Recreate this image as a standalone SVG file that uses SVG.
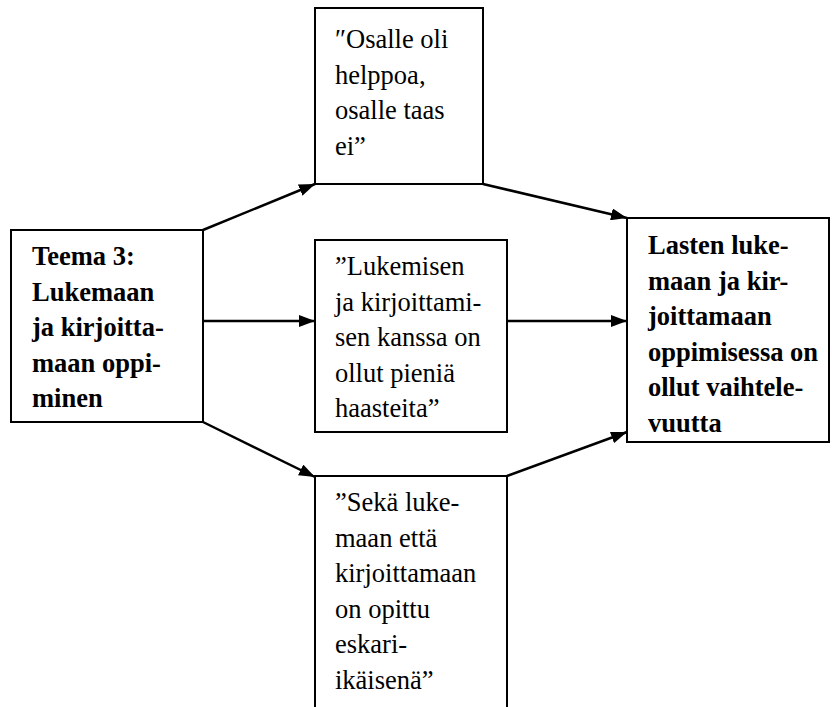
<svg xmlns="http://www.w3.org/2000/svg" width="832" height="707" viewBox="0 0 832 707">
<defs>
<marker id="arr" viewBox="0 0 16 12" refX="16" refY="6" markerWidth="16" markerHeight="12" markerUnits="userSpaceOnUse" orient="auto">
<path d="M0,0 L16,6 L0,12 z" fill="#000"/>
</marker>
<style>
.box{fill:#fff;stroke:#000;stroke-width:2}
.t{font-family:"Liberation Serif","Times New Roman",serif;font-size:26.5px;fill:#000}
.b{font-weight:bold}
.c{stroke:#000;stroke-width:2.5;fill:none;marker-end:url(#arr)}
</style>
</defs>
<rect width="832" height="707" fill="#fff"/>
<g id="connectors">
<line class="c" x1="203" y1="230" x2="315" y2="184"/>
<line class="c" x1="203" y1="321" x2="315" y2="321"/>
<line class="c" x1="203" y1="422" x2="315" y2="477"/>
<line class="c" x1="483" y1="184" x2="627" y2="218"/>
<line class="c" x1="507" y1="321" x2="627" y2="321"/>
<line class="c" x1="507" y1="476" x2="627" y2="432"/>
</g>
<g id="teema">
<rect class="box" x="11" y="230" width="192" height="192"/>
<text class="t b" x="32"><tspan x="32" y="265">Teema 3:</tspan><tspan x="32" y="300.5">Lukemaan</tspan><tspan x="32" y="336">ja kirjoitta-</tspan><tspan x="32" y="371.5">maan oppi-</tspan><tspan x="32" y="407">minen</tspan></text>
</g>
<g id="osalle">
<rect class="box" x="315" y="8" width="168" height="176"/>
<text class="t"><tspan x="335" y="48">″Osalle oli</tspan><tspan x="335" y="83.5">helppoa,</tspan><tspan x="335" y="119">osalle taas</tspan><tspan x="335" y="154.5">ei”</tspan></text>
</g>
<g id="lukemisen">
<rect class="box" x="315" y="240" width="192" height="192"/>
<text class="t"><tspan x="335" y="275">”Lukemisen</tspan><tspan x="335" y="310.5">ja kirjoittami-</tspan><tspan x="335" y="346">sen kanssa on</tspan><tspan x="335" y="381.5">ollut pieniä</tspan><tspan x="335" y="417">haasteita”</tspan></text>
</g>
<g id="seka">
<rect class="box" x="315" y="476" width="192" height="240"/>
<text class="t"><tspan x="335" y="511">”Sekä luke-</tspan><tspan x="335" y="546.5">maan että</tspan><tspan x="335" y="582">kirjoittamaan</tspan><tspan x="335" y="617.5">on opittu</tspan><tspan x="335" y="653">eskari-</tspan><tspan x="335" y="688.5">ikäisenä”</tspan></text>
</g>
<g id="lasten">
<rect class="box" x="627" y="218" width="202" height="224"/>
<text class="t b"><tspan x="648" y="254">Lasten luke-</tspan><tspan x="648" y="289.5">maan ja kir-</tspan><tspan x="648" y="325">joittamaan</tspan><tspan x="648" y="360.5">oppimisessa on</tspan><tspan x="648" y="396">ollut vaihtele-</tspan><tspan x="648" y="431.5">vuutta</tspan></text>
</g>
</svg>
